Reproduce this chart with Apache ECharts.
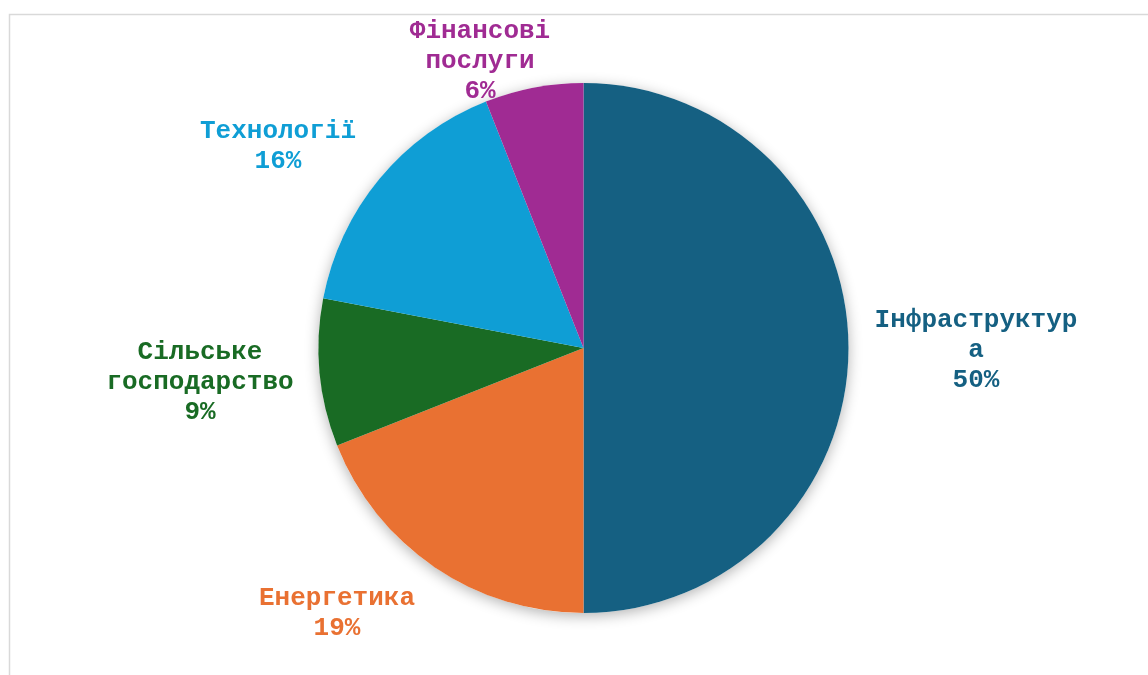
<!DOCTYPE html>
<html>
<head>
<meta charset="utf-8">
<script src="https://cdn.jsdelivr.net/npm/echarts@6/dist/echarts.min.js"></script>
<style>html,body{margin:0;padding:0;background:#fff;}#c{width:1148px;height:675px;}</style>
</head>
<body>
<div id="c"></div>
<script>
const categories = ['Інфраструктура', 'Енергетика', 'Сільське господарство', 'Технології', 'Фінансові послуги'];
const values = [50, 19, 9, 16, 6];
const colors = ['#156082', '#E97132', '#196B24', '#0F9ED5', '#A02B93'];
const labelPos = [[976, 350], [337, 613], [200, 382], [278, 146], [480, 61]];
const maxChars = 13;

function wrap(text) {
  const lines = [];
  let cur = '';
  text.split(' ').forEach(w => {
    if (cur && (cur + ' ' + w).length <= maxChars) { cur += ' ' + w; return; }
    if (cur) { lines.push(cur); cur = ''; }
    while (w.length > maxChars) { lines.push(w.slice(0, maxChars)); w = w.slice(maxChars); }
    cur = w;
  });
  if (cur) lines.push(cur);
  return lines.join('\n');
}

const total = values.reduce((a, b) => a + b, 0);
const chart = echarts.init(document.getElementById('c'));
chart.setOption({
  animation: false,
  backgroundColor: '#fff',
  graphic: [{
    type: 'rect', left: 7, top: 12,
    shape: { width: 1300, height: 800 },
    style: { fill: 'none', stroke: '#d9d9d9', lineWidth: 1.5 },
    silent: true, z: -10
  }],
  series: [{
    type: 'pie',
    silent: true,
    z: 1,
    center: [583.5, 348],
    radius: [0, 265],
    data: [{ value: total, name: 'shadow' }],
    itemStyle: { color: '#ffffff', shadowBlur: 14, shadowColor: 'rgba(0,0,0,0.3)', shadowOffsetY: 3 },
    label: { show: false },
    labelLine: { show: false },
    emphasis: { disabled: true }
  }, {
    type: 'pie',
    z: 2,
    center: [583.5, 348],
    radius: [0, 265],
    startAngle: 90,
    clockwise: true,
    data: categories.map((n, i) => ({ name: n, value: values[i], itemStyle: { color: colors[i] }, label: { color: colors[i] } })),
    itemStyle: { borderWidth: 0 },
    label: {
      show: true,
      position: 'inside',
      formatter: p => wrap(p.name) + '\n' + Math.round(p.percent) + '%',
      fontFamily: 'Liberation Mono',
      fontWeight: 'bold',
      fontSize: 26,
      lineHeight: 30,
      align: 'center'
    },
    labelLine: { show: false },
    labelLayout: p => ({ x: labelPos[p.dataIndex][0], y: labelPos[p.dataIndex][1], align: 'center', verticalAlign: 'middle' })
  }]
});
</script>
</body>
</html>
